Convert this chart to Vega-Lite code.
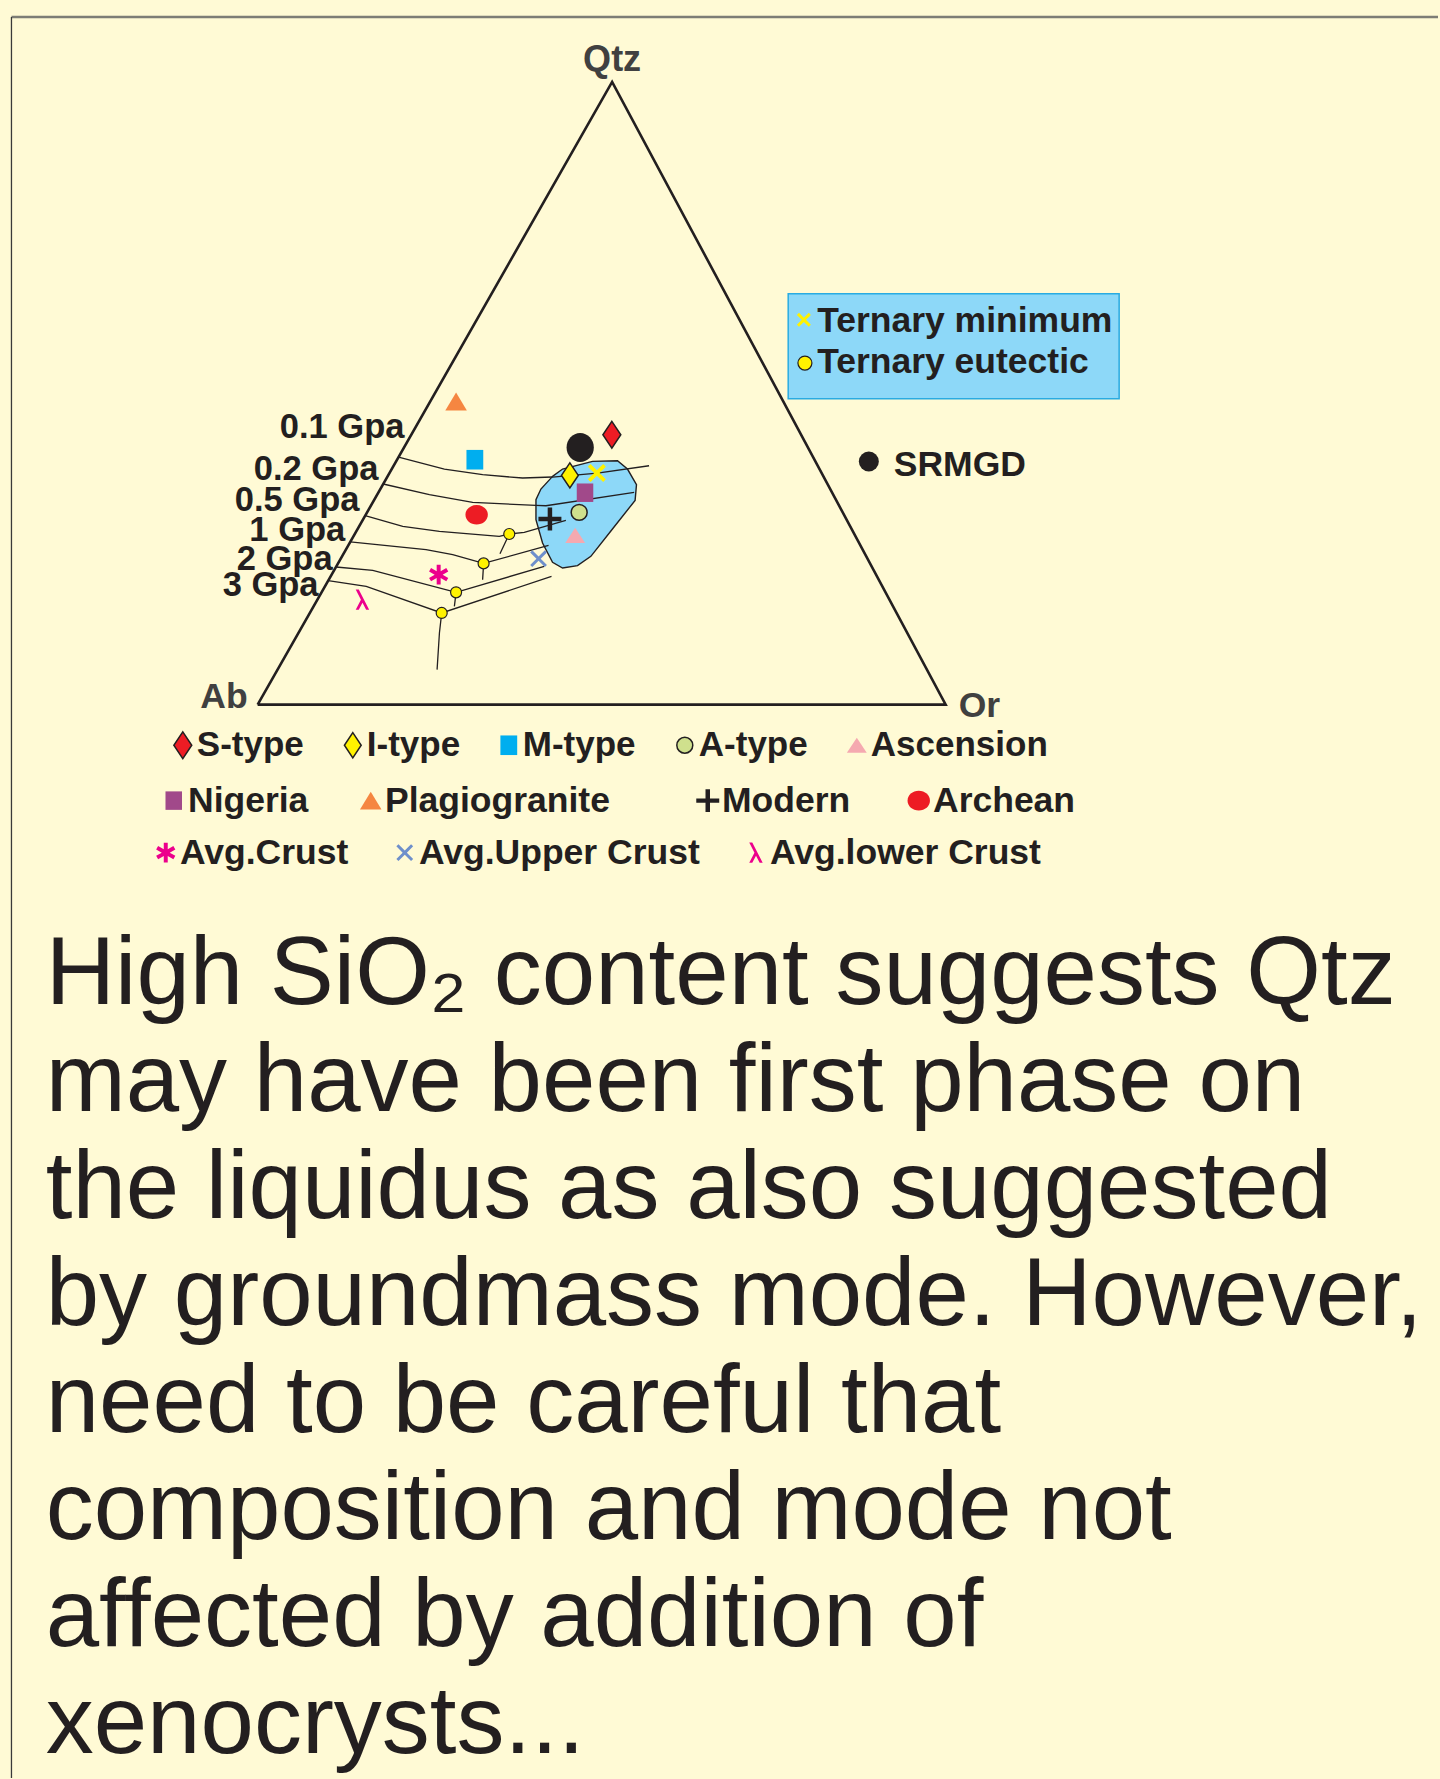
{
  "$schema": "https://vega.github.io/schema/vega-lite/v6.json",
  "width": 1440,
  "height": 1779,
  "autosize": {"type": "fit", "contains": "padding"},
  "padding": 0,
  "background": "#FFFAD5",
  "config": {"view": {"stroke": null}, "axis": {"disable": true}},
  "datasets": {
    "tri": [
      {"o": 0, "x": 0, "y": 0},
      {"o": 1, "x": 51.52, "y": 100},
      {"o": 2, "x": 100, "y": 0},
      {"o": 3, "x": 0, "y": 0}
    ],
    "iso": [
      {"c": "0.1", "o": 0, "x": 20.48, "y": 39.76},
      {"c": "0.1", "o": 1, "x": 27.14, "y": 37.83},
      {"c": "0.1", "o": 2, "x": 32.7, "y": 36.92},
      {"c": "0.1", "o": 3, "x": 38.51, "y": 36.39},
      {"c": "0.1", "o": 4, "x": 42.86, "y": 36.55},
      {"c": "0.1", "o": 5, "x": 49.39, "y": 37.19},
      {"c": "0.1", "o": 6, "x": 56.89, "y": 38.36},
      {"c": "0.2", "o": 0, "x": 18.25, "y": 35.43},
      {"c": "0.2", "o": 1, "x": 24.96, "y": 33.71},
      {"c": "0.2", "o": 2, "x": 31.25, "y": 32.47},
      {"c": "0.2", "o": 3, "x": 40.45, "y": 31.99},
      {"c": "0.2", "o": 4, "x": 41.9, "y": 31.94},
      {"c": "0.2", "o": 5, "x": 54.72, "y": 34.08},
      {"c": "0.5", "o": 0, "x": 15.63, "y": 30.34},
      {"c": "0.5", "o": 1, "x": 21.09, "y": 28.62},
      {"c": "0.5", "o": 2, "x": 26.42, "y": 27.82},
      {"c": "0.5", "o": 3, "x": 35.12, "y": 27.01},
      {"c": "0.5", "o": 4, "x": 36.57, "y": 27.4},
      {"c": "0.5", "o": 5, "x": 38.75, "y": 27.66},
      {"c": "0.5", "o": 6, "x": 44.8, "y": 29.58},
      {"c": "0.5b", "o": 0, "x": 36.57, "y": 27.4},
      {"c": "0.5b", "o": 1, "x": 35.22, "y": 24.24},
      {"c": "1", "o": 0, "x": 13.46, "y": 26.12},
      {"c": "1", "o": 1, "x": 24.48, "y": 24.88},
      {"c": "1", "o": 2, "x": 28.35, "y": 24.08},
      {"c": "1", "o": 3, "x": 32.84, "y": 22.68},
      {"c": "1", "o": 4, "x": 42.28, "y": 25.57},
      {"c": "1b", "o": 0, "x": 32.84, "y": 22.68},
      {"c": "1b", "o": 1, "x": 32.7, "y": 20.06},
      {"c": "2", "o": 0, "x": 11.39, "y": 22.1},
      {"c": "2", "o": 1, "x": 16.73, "y": 21.56},
      {"c": "2", "o": 2, "x": 28.84, "y": 18.03},
      {"c": "2", "o": 3, "x": 41.65, "y": 22.2},
      {"c": "2b", "o": 0, "x": 28.84, "y": 18.03},
      {"c": "2b", "o": 1, "x": 28.59, "y": 15.78},
      {"c": "3", "o": 0, "x": 10.25, "y": 19.9},
      {"c": "3", "o": 1, "x": 15.78, "y": 18.99},
      {"c": "3", "o": 2, "x": 26.75, "y": 14.72},
      {"c": "3", "o": 3, "x": 42.71, "y": 20.59},
      {"c": "3b", "o": 0, "x": 26.75, "y": 14.72},
      {"c": "3b", "o": 1, "x": 26.42, "y": 11.51},
      {"c": "3b", "o": 2, "x": 26.08, "y": 5.62}
    ],
    "blob": [
      {"o": 0, "x": 42.86, "y": 36.65},
      {"o": 1, "x": 44.32, "y": 37.83},
      {"o": 2, "x": 48.67, "y": 39.06},
      {"o": 3, "x": 52.3, "y": 39.17},
      {"o": 4, "x": 53.75, "y": 37.83},
      {"o": 5, "x": 55.06, "y": 35.31},
      {"o": 6, "x": 54.86, "y": 32.8},
      {"o": 7, "x": 51.57, "y": 28.2},
      {"o": 8, "x": 48.43, "y": 23.81},
      {"o": 9, "x": 46.49, "y": 22.31},
      {"o": 10, "x": 44.32, "y": 21.94},
      {"o": 11, "x": 42.86, "y": 22.85},
      {"o": 12, "x": 41.41, "y": 25.95},
      {"o": 13, "x": 40.45, "y": 29.7},
      {"o": 14, "x": 40.45, "y": 32.91},
      {"o": 15, "x": 41.17, "y": 34.62}
    ],
    "eut": [
      {"x": 36.57, "y": 27.4},
      {"x": 32.84, "y": 22.68},
      {"x": 28.84, "y": 18.03},
      {"x": 26.75, "y": 14.72}
    ],
    "pts": [
      {"row": 1, "group": "S-type", "x": 51.48, "y": 43.34},
      {"row": 1, "group": "I-type", "x": 45.38, "y": 36.81},
      {"row": 1, "group": "M-type", "x": 31.57, "y": 39.33},
      {"row": 1, "group": "A-type", "x": 46.73, "y": 30.87},
      {"row": 1, "group": "Ascension", "x": 46.15, "y": 27.17},
      {"row": 2, "group": "Nigeria", "x": 47.58, "y": 34.03},
      {"row": 2, "group": "Plagiogranite", "x": 28.84, "y": 48.68},
      {"row": 3, "group": "Modern", "x": 42.48, "y": 29.81},
      {"row": 3, "group": "Archean", "x": 31.83, "y": 30.5},
      {"row": 4, "group": "Avg.Crust", "x": 26.31, "y": 20.87},
      {"row": 4, "group": "Avg.Upper Crust", "x": 40.83, "y": 23.43},
      {"row": 4, "group": "Avg.lower Crust", "x": 15.2, "y": 16.85}
    ],
    "gpa": [
      {"t": "0.1 Gpa", "x": 21.34, "y": 42.81},
      {"t": "0.2 Gpa", "x": 17.56, "y": 36.12},
      {"t": "0.5 Gpa", "x": 14.8, "y": 31.03},
      {"t": "1 Gpa", "x": 12.73, "y": 26.21},
      {"t": "2 Gpa", "x": 10.89, "y": 21.67},
      {"t": "3 Gpa", "x": 8.85, "y": 17.38}
    ]
  },
  "encoding": {
    "x": {"field": "x", "type": "quantitative", "scale": {"domain": [-37.446, 171.553], "nice": false, "zero": false}, "axis": null},
    "y": {"field": "y", "type": "quantitative", "scale": {"domain": [-172.392, 113.162], "nice": false, "zero": false}, "axis": null}
  },
  "layer": [
    {
      "data": {"values": [{"x": -35.78, "x2": 171.553, "y": 110.43}]},
      "mark": {"type": "rule", "color": "#7d7d75", "strokeWidth": 2.5},
      "encoding": {"x2": {"field": "x2"}}
    },
    {
      "data": {"values": [{"x": -35.78, "y": 110.43, "y2": -172.392}]},
      "mark": {"type": "rule", "color": "#3a3a3a", "strokeWidth": 1.3},
      "encoding": {"y2": {"field": "y2"}}
    },
    {
      "data": {"name": "blob"},
      "mark": {"type": "line", "interpolate": "linear-closed", "fill": "#8DD8F8", "stroke": "#231F20", "strokeWidth": 1.4},
      "encoding": {"order": {"field": "o", "type": "quantitative"}}
    },
    {
      "data": {"name": "iso"},
      "mark": {"type": "line", "stroke": "#231F20", "strokeWidth": 1.3},
      "encoding": {"detail": {"field": "c", "type": "nominal"}, "order": {"field": "o", "type": "quantitative"}}
    },
    {
      "data": {"name": "tri"},
      "mark": {"type": "line", "stroke": "#231F20", "strokeWidth": 2.6, "strokeJoin": "miter"},
      "encoding": {"order": {"field": "o", "type": "quantitative"}}
    },
    {
      "data": {"name": "eut"},
      "mark": {"type": "point", "shape": "circle", "filled": true, "opacity": 1, "size": 121, "fill": "#FFF200", "stroke": "#231F20", "strokeWidth": 1.2},
      "encoding": {}
    },
    {
      "data": {"values": [{"x": 46.88, "y": 41.3}]},
      "mark": {"type": "point", "shape": "M-0.94,0A0.94,1,0,1,0,0.94,0A0.94,1,0,1,0,-0.94,0Z", "filled": true, "opacity": 1, "size": 841, "fill": "#231F20"},
      "encoding": {}
    },
    {
      "data": {"name": "pts"},
      "transform": [{"filter": "datum.row == 1"}],
      "mark": {"type": "point", "filled": true, "opacity": 1, "size": 784, "strokeWidth": 1.5},
      "encoding": {
        "shape": {"field": "group", "type": "nominal",
          "scale": {"domain": ["S-type", "I-type", "M-type", "A-type", "Ascension"],
            "range": ["M0,-0.96L0.64,0L0,0.96L-0.64,0Z", "M0,-0.9L0.6,0L0,0.9L-0.6,0Z", "M-0.6,-0.7H0.6V0.7H-0.6Z", "M-0.57,0A0.57,0.57,0,1,0,0.57,0A0.57,0.57,0,1,0,-0.57,0Z", "M0,-0.54L0.71,0.54L-0.71,0.54Z"]},
          "legend": {"orient": "none", "legendX": 165.3, "legendY": 727.5, "direction": "horizontal", "columns": 5, "title": null, "symbolSize": 784, "labelFont": "Liberation Sans", "labelFontSize": 35, "labelFontWeight": "bold", "labelColor": "#231F20", "labelOffset": -3.5, "columnPadding": 31, "padding": 0, "labelLimit": 500, "symbolStrokeWidth": 1.5, "symbolOpacity": 1}},
        "fill": {"field": "group", "type": "nominal",
          "scale": {"domain": ["S-type", "I-type", "M-type", "A-type", "Ascension"], "range": ["#ED1C24", "#FFF200", "#00AEEF", "#CFE08D", "#F5A9B0"]},
          "legend": {"orient": "none", "legendX": 165.3, "legendY": 727.5, "direction": "horizontal", "columns": 5, "title": null, "symbolSize": 784, "labelFont": "Liberation Sans", "labelFontSize": 35, "labelFontWeight": "bold", "labelColor": "#231F20", "labelOffset": -3.5, "columnPadding": 31, "padding": 0, "labelLimit": 500, "symbolStrokeWidth": 1.5, "symbolOpacity": 1}},
        "stroke": {"field": "group", "type": "nominal",
          "scale": {"domain": ["S-type", "I-type", "M-type", "A-type", "Ascension"], "range": ["#231F20", "#231F20", "transparent", "#231F20", "transparent"]},
          "legend": {"orient": "none", "legendX": 165.3, "legendY": 727.5, "direction": "horizontal", "columns": 5, "title": null, "symbolSize": 784, "labelFont": "Liberation Sans", "labelFontSize": 35, "labelFontWeight": "bold", "labelColor": "#231F20", "labelOffset": -3.5, "columnPadding": 31, "padding": 0, "labelLimit": 500, "symbolStrokeWidth": 1.5, "symbolOpacity": 1}}
      }
    },
    {
      "data": {"name": "pts"},
      "transform": [{"filter": "datum.row == 2"}],
      "mark": {"type": "point", "filled": true, "opacity": 1, "size": 784},
      "encoding": {
        "shape": {"field": "group", "type": "nominal",
          "scale": {"domain": ["Nigeria", "Plagiogranite"], "range": ["M-0.59,-0.66H0.59V0.66H-0.59Z", "M0,-0.64L0.77,0.64L-0.77,0.64Z"]},
          "legend": {"orient": "none", "legendX": 156, "legendY": 782.5, "direction": "horizontal", "columns": 2, "title": null, "symbolSize": 784, "labelFont": "Liberation Sans", "labelFontSize": 35.5, "labelFontWeight": "bold", "labelColor": "#231F20", "labelOffset": -3.5, "columnPadding": 44, "padding": 0, "labelLimit": 500, "symbolOpacity": 1}},
        "fill": {"field": "group", "type": "nominal",
          "scale": {"domain": ["Nigeria", "Plagiogranite"], "range": ["#A1498A", "#F58641"]},
          "legend": {"orient": "none", "legendX": 156, "legendY": 782.5, "direction": "horizontal", "columns": 2, "title": null, "symbolSize": 784, "labelFont": "Liberation Sans", "labelFontSize": 35.5, "labelFontWeight": "bold", "labelColor": "#231F20", "labelOffset": -3.5, "columnPadding": 44, "padding": 0, "labelLimit": 500, "symbolOpacity": 1}}
      }
    },
    {
      "data": {"name": "pts"},
      "transform": [{"filter": "datum.row == 3"}],
      "mark": {"type": "point", "filled": true, "opacity": 1, "size": 784},
      "encoding": {
        "shape": {"field": "group", "type": "nominal",
          "scale": {"domain": ["Modern", "Archean"], "range": ["M-0.82,-0.16H-0.16V-0.82H0.16V-0.16H0.82V0.16H0.16V0.82H-0.16V0.16H-0.82Z", "M-0.8,0A0.8,0.7,0,1,0,0.8,0A0.8,0.7,0,1,0,-0.8,0Z"]},
          "legend": {"orient": "none", "legendX": 690, "legendY": 782.5, "direction": "horizontal", "columns": 2, "title": null, "symbolSize": 784, "labelFont": "Liberation Sans", "labelFontSize": 35.5, "labelFontWeight": "bold", "labelColor": "#231F20", "labelOffset": -3.5, "columnPadding": 50, "padding": 0, "labelLimit": 500, "symbolOpacity": 1}},
        "fill": {"field": "group", "type": "nominal",
          "scale": {"domain": ["Modern", "Archean"], "range": ["#231F20", "#ED1C24"]},
          "legend": {"orient": "none", "legendX": 690, "legendY": 782.5, "direction": "horizontal", "columns": 2, "title": null, "symbolSize": 784, "labelFont": "Liberation Sans", "labelFontSize": 35.5, "labelFontWeight": "bold", "labelColor": "#231F20", "labelOffset": -3.5, "columnPadding": 50, "padding": 0, "labelLimit": 500, "symbolOpacity": 1}}
      }
    },
    {
      "data": {"name": "pts"},
      "transform": [{"filter": "datum.row == 4"}],
      "mark": {"type": "point", "filled": true, "opacity": 1, "size": 784},
      "encoding": {
        "shape": {"field": "group", "type": "nominal",
          "scale": {"domain": ["Avg.Crust", "Avg.Upper Crust", "Avg.lower Crust"],
            "range": ["M0.142,0.71L-0.142,0.71L-0.142,0.246L-0.544,0.478L-0.686,0.232L-0.284,0L-0.686,-0.232L-0.544,-0.478L-0.142,-0.246L-0.142,-0.71L0.142,-0.71L0.142,-0.246L0.544,-0.478L0.686,-0.232L0.284,0L0.686,0.232L0.544,0.478L0.142,0.246Z", "M-0.6,-0.45L-0.45,-0.6L0,-0.15L0.45,-0.6L0.6,-0.45L0.15,0L0.6,0.45L0.45,0.6L0,0.15L-0.45,0.6L-0.6,0.45L-0.15,0Z", "M-0.465,-0.72L-0.248,-0.72L0.496,0.72L0.279,0.72L0.019,0.216L-0.248,0.72L-0.465,0.72L-0.093,0Z"]},
          "legend": {"orient": "none", "legendX": 148, "legendY": 834.5, "direction": "horizontal", "columns": 3, "title": null, "symbolSize": 784, "labelFont": "Liberation Sans", "labelFontSize": 35.5, "labelFontWeight": "bold", "labelColor": "#231F20", "labelOffset": -3.5, "columnPadding": 38, "padding": 0, "labelLimit": 500, "symbolOpacity": 1}},
        "fill": {"field": "group", "type": "nominal",
          "scale": {"domain": ["Avg.Crust", "Avg.Upper Crust", "Avg.lower Crust"], "range": ["#EC008C", "#6E8FCB", "#EC008C"]},
          "legend": {"orient": "none", "legendX": 148, "legendY": 834.5, "direction": "horizontal", "columns": 3, "title": null, "symbolSize": 784, "labelFont": "Liberation Sans", "labelFontSize": 35.5, "labelFontWeight": "bold", "labelColor": "#231F20", "labelOffset": -3.5, "columnPadding": 38, "padding": 0, "labelLimit": 500, "symbolOpacity": 1}}
      }
    },
    {
      "data": {"values": [{"x": 49.3, "y": 37.19}]},
      "mark": {"type": "point", "shape": "M-1,-0.7L-0.7,-1L0,-0.3L0.7,-1L1,-0.7L0.3,0L1,0.7L0.7,1L0,0.3L-0.7,1L-1,0.7L-0.3,0Z", "filled": true, "opacity": 1, "size": 324, "fill": "#FFF200"},
      "encoding": {}
    },
    {
      "data": {"values": [{"x": 77.11, "x2": 125.21, "y": 65.97, "y2": 49.12}]},
      "mark": {"type": "rect", "fill": "#8DD8F8", "stroke": "#29ABE2", "strokeWidth": 1.5},
      "encoding": {"x2": {"field": "x2"}, "y2": {"field": "y2"}}
    },
    {
      "data": {"values": [{"x": 79.39, "y": 61.8}]},
      "mark": {"type": "point", "shape": "M-1,-0.7L-0.7,-1L0,-0.3L0.7,-1L1,-0.7L0.3,0L1,0.7L0.7,1L0,0.3L-0.7,1L-1,0.7L-0.3,0Z", "filled": true, "opacity": 1, "size": 196, "fill": "#FFF200"},
      "encoding": {}
    },
    {
      "data": {"values": [{"x": 79.54, "y": 54.85}]},
      "mark": {"type": "point", "shape": "circle", "filled": true, "opacity": 1, "size": 196, "fill": "#FFF200", "stroke": "#231F20", "strokeWidth": 1.2},
      "encoding": {}
    },
    {
      "data": {"values": [{"t": "Ternary minimum", "x": 81.32, "y": 59.92}, {"t": "Ternary eutectic", "x": 81.32, "y": 53.24}, {"t": "SRMGD", "x": 92.45, "y": 36.65}]},
      "mark": {"type": "text", "align": "left", "baseline": "alphabetic", "font": "Liberation Sans", "fontSize": 35.5, "fontWeight": "bold", "color": "#231F20"},
      "encoding": {"text": {"field": "t", "type": "nominal"}}
    },
    {
      "data": {"values": [{"x": 88.83, "y": 39.05}]},
      "mark": {"type": "point", "shape": "circle", "filled": true, "opacity": 1, "size": 400, "fill": "#231F20"},
      "encoding": {}
    },
    {
      "data": {"name": "gpa"},
      "mark": {"type": "text", "align": "right", "baseline": "alphabetic", "font": "Liberation Sans", "fontSize": 34.5, "fontWeight": "bold", "color": "#231F20"},
      "encoding": {"text": {"field": "t", "type": "nominal"}}
    },
    {
      "data": {"values": [{"t": "Qtz", "x": 51.52, "y": 101.81}]},
      "mark": {"type": "text", "align": "center", "baseline": "alphabetic", "font": "Liberation Sans", "fontSize": 36, "fontWeight": "bold", "color": "#404040"},
      "encoding": {"text": {"field": "t", "type": "nominal"}}
    },
    {
      "data": {"values": [{"t": "Ab", "x": -1.45, "y": -0.53}]},
      "mark": {"type": "text", "align": "right", "baseline": "alphabetic", "font": "Liberation Sans", "fontSize": 35.5, "fontWeight": "bold", "color": "#404040"},
      "encoding": {"text": {"field": "t", "type": "nominal"}}
    },
    {
      "data": {"values": [{"t": "Or", "x": 101.89, "y": -1.93}]},
      "mark": {"type": "text", "align": "left", "baseline": "alphabetic", "font": "Liberation Sans", "fontSize": 35.5, "fontWeight": "bold", "color": "#404040"},
      "encoding": {"text": {"field": "t", "type": "nominal"}}
    },
    {
      "data": {"values": [{"x": -30.8, "y": -48.15}]},
      "mark": {"type": "text", "align": "left", "baseline": "alphabetic", "font": "Liberation Sans", "fontSize": 96, "lineHeight": 107, "color": "#231F20",
        "text": ["High SiO₂ content suggests Qtz", "may have been first phase on", "the liquidus as also suggested", "by groundmass mode. However,", "need to be careful that", "composition and mode not", "affected by addition of", "xenocrysts..."]},
      "encoding": {}
    }
  ],
  "resolve": {"scale": {"shape": "independent", "fill": "independent", "stroke": "independent"}}
}
